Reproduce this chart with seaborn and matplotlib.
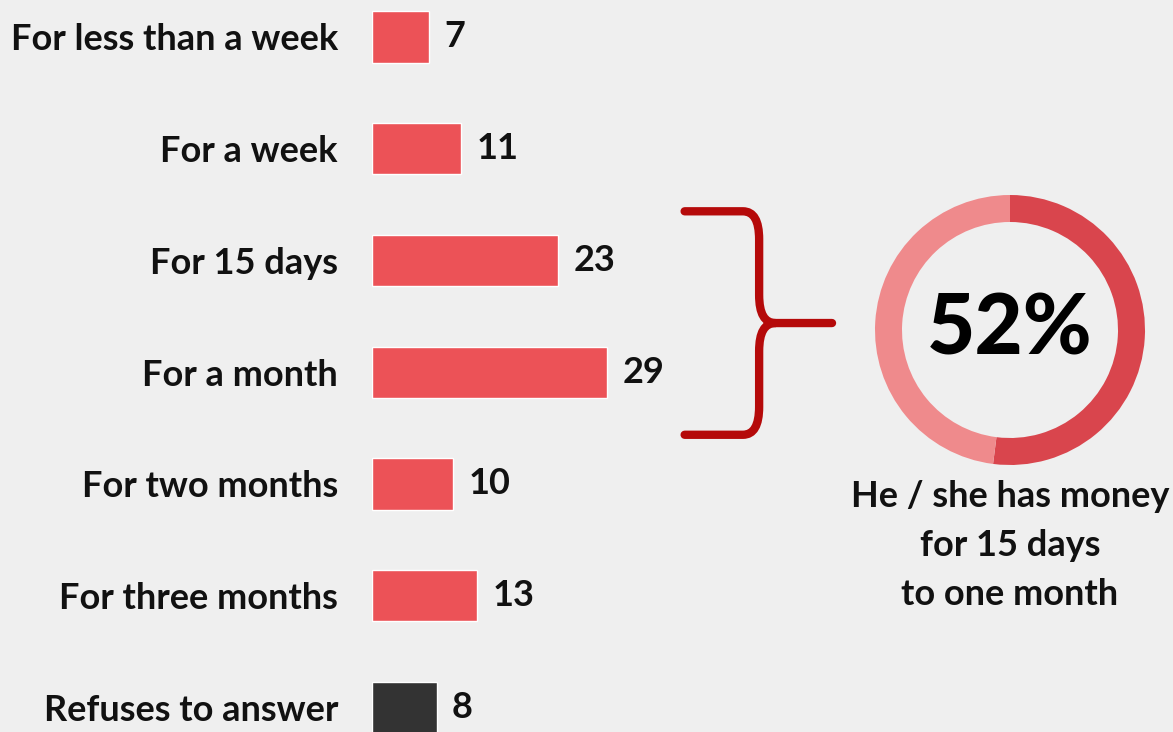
import numpy as np
import seaborn as sns
from matplotlib import pyplot as plt
from matplotlib.path import Path
from matplotlib.patches import PathPatch

# data
categories = ["For less than a week", "For a week", "For 15 days", "For a month",
              "For two months", "For three months", "Refuses to answer"]
values = [7, 11, 23, 29, 10, 13, 8]
bar_colors = ["#ec5257"] * 6 + ["#333333"]
donut_share = [52, 48]
donut_label = "52%"
caption = "He / she has money\nfor 15 days\nto one month"

BG = "#efefef"
sns.set_theme(style="white")
plt.rcParams["font.family"] = ["Lato", "DejaVu Sans"]

fig = plt.figure(figsize=(11.73, 7.32), dpi=100, facecolor=BG)
ax = fig.add_axes([372 / 1173, 0, 1 - 372 / 1173, 1])
ax.set_facecolor(BG)

sns.barplot(x=values, y=categories, hue=categories, palette=bar_colors,
            legend=False, width=0.46, ax=ax, saturation=1)
ax.set_xlim(0, 98.9)
ax.set_ylim(6.22, -0.331)
for c in ax.containers:
    ax.bar_label(c, padding=11, fontsize=26, fontweight="bold", color="#111111")
ax.tick_params(axis="y", length=0, pad=24.5, labelsize=26)
for t in ax.get_yticklabels():
    t.set_fontweight("bold")
    t.set_color("#111111")
ax.set_xticks([])
ax.set_xlabel("")
ax.set_ylabel("")
sns.despine(ax=ax, left=True, bottom=True)

# bracket joining "For 15 days" and "For a month"
y_top, y_bot = 2 - 0.44, 3 + 0.56
y_mid = (y_top + y_bot) / 2
x0, x1, x_tip = 38.6, 47.8, 56.8
r = 2.0
ry = 0.25
verts = [(x0, y_top), (x1 - r, y_top), (x1, y_top), (x1, y_top + ry),
         (x1, y_mid - ry), (x1, y_mid), (x1 + r, y_mid),
         (x_tip, y_mid),
         (x1 + r, y_mid), (x1, y_mid), (x1, y_mid + ry),
         (x1, y_bot - ry), (x1, y_bot), (x1 - r, y_bot), (x0, y_bot)]
codes = [Path.MOVETO, Path.LINETO, Path.CURVE3, Path.CURVE3,
         Path.LINETO, Path.CURVE3, Path.CURVE3,
         Path.LINETO,
         Path.MOVETO, Path.CURVE3, Path.CURVE3,
         Path.LINETO, Path.CURVE3, Path.CURVE3, Path.LINETO]
ax.add_patch(PathPatch(Path(verts, codes), fill=False, edgecolor="#b50a0a",
                       lw=6, capstyle="round", joinstyle="round"))

# donut
dax = fig.add_axes([875 / 1173, (732 - 465) / 732, 270 / 1173, 270 / 732])
dax.pie(donut_share, colors=["#d9454d", "#ef8a8c"], startangle=90, counterclock=False,
        wedgeprops=dict(width=0.2, linewidth=0))
dax.set_xlim(-1, 1)
dax.set_ylim(-1, 1)
dax.set_aspect("equal")
dax.text(0, 0, donut_label, ha="center", va="center", fontsize=60,
         fontweight="black", color="black")

fig.text(1010 / 1173, 1 - 480 / 732, caption, ha="center", va="top",
         fontsize=26, fontweight="bold", color="#111111", linespacing=1.6)

fig.savefig("out.png", dpi=100, facecolor=BG)
